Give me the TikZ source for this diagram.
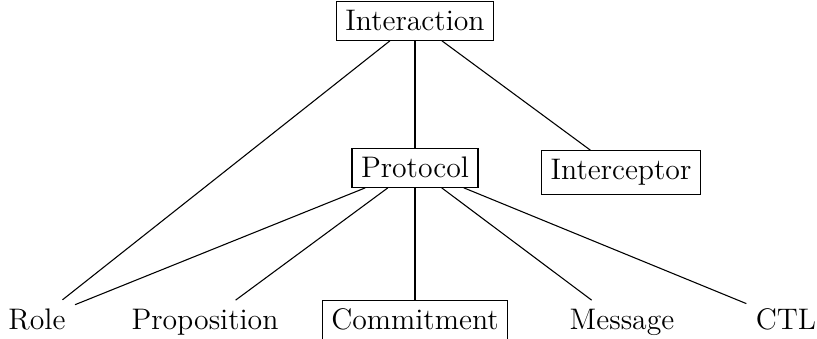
\documentclass[tikz,border=0pt]{standalone}
\usepackage{tikz}

\begin{document}
\begin{tikzpicture}[x=0.37pt,y=0.37pt,
  every node/.style={font=\fontsize{11}{13}\selectfont},
  boxed/.style={draw,anchor=base},
  plain/.style={anchor=base}]
\useasboundingbox (0,0) rectangle (817,339);

\node[boxed] (interaction) at (415,308) {Interaction};
\node[boxed] (protocol) at (415,161) {Protocol};
\node[boxed] (interceptor) at (621,159) {Interceptor};

\node[plain] (role) at (37,9) {Role};
\node[plain] (proposition) at (205,9) {Proposition};
\node[boxed] (commitment) at (415,9) {Commitment};
\node[plain] (message) at (622,9) {Message};
\node[plain] (ctl) at (786,9) {CTL};

\foreach \c in {role,protocol,interceptor} {
\draw (interaction) -- (\c);
}
\foreach \c in {role,proposition,commitment,message,ctl} {
\draw (protocol) -- (\c);
}
\end{tikzpicture}
\end{document}
